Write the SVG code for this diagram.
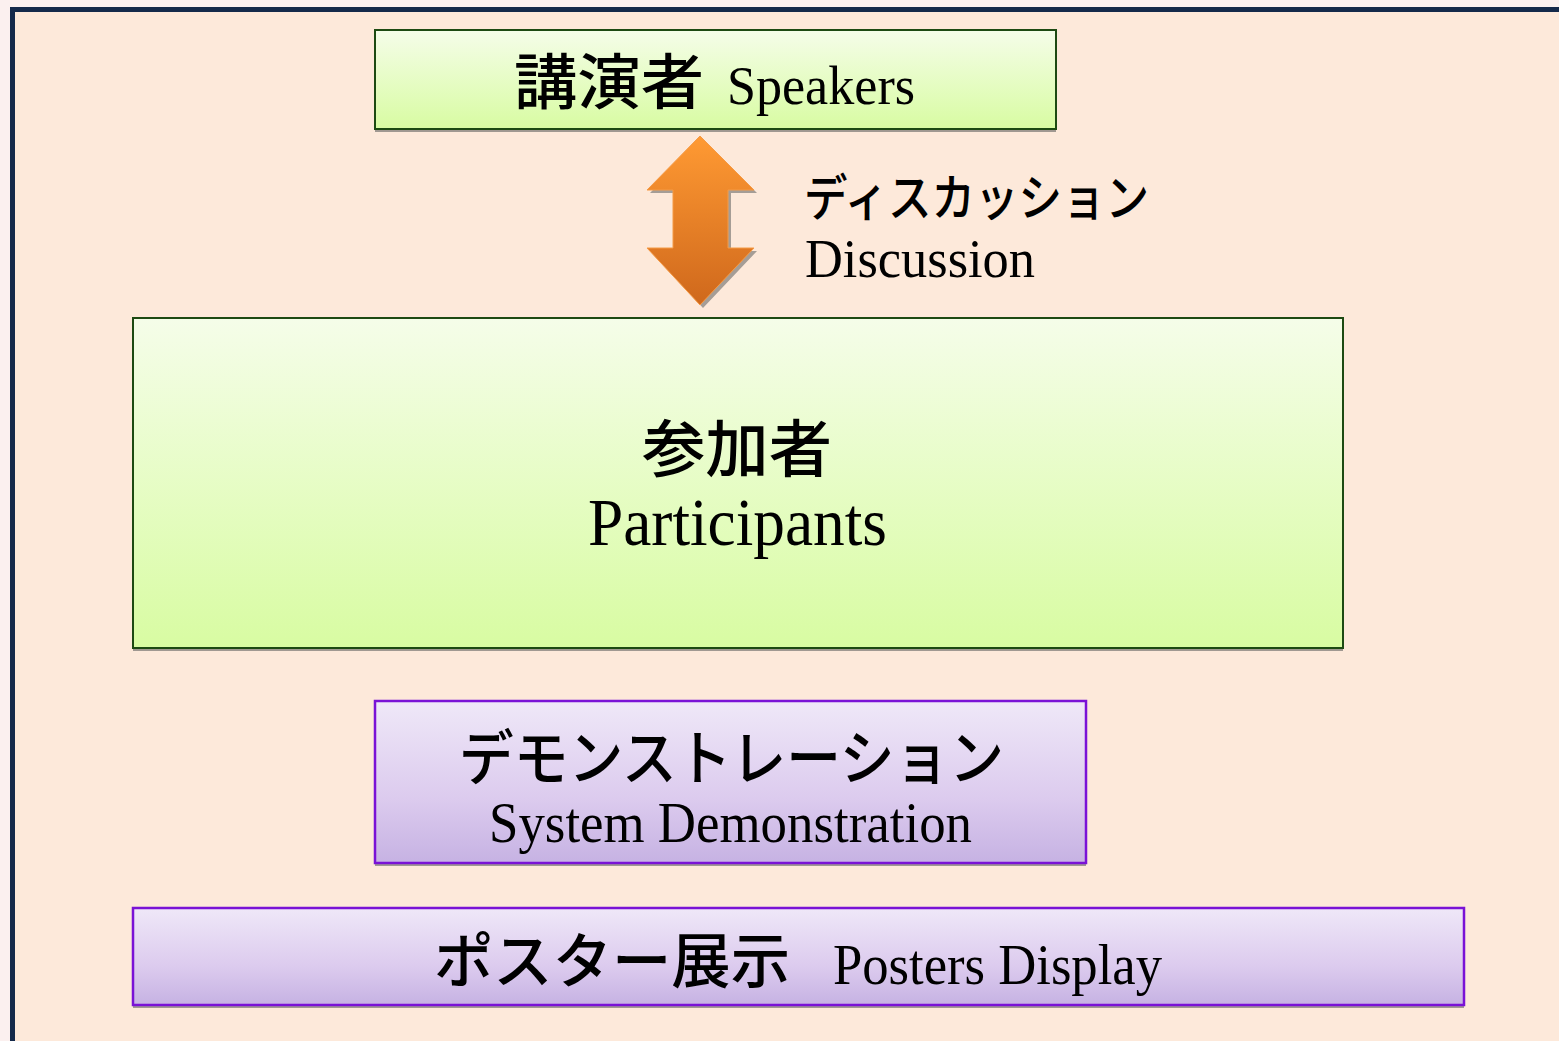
<svg xmlns="http://www.w3.org/2000/svg" width="1559" height="1041" viewBox="0 0 1559 1041">
<defs>
<linearGradient id="gGreen" x1="0" y1="0" x2="0" y2="1">
<stop offset="0" stop-color="#f5fde9"/>
<stop offset="1" stop-color="#d8fca2"/>
</linearGradient>
<linearGradient id="gPurple" x1="0" y1="0" x2="0" y2="1">
<stop offset="0" stop-color="#efe8f8"/>
<stop offset="0.6" stop-color="#dccbee"/>
<stop offset="1" stop-color="#c6b2e3"/>
</linearGradient>
<linearGradient id="gOrange" x1="0" y1="0" x2="0" y2="1">
<stop offset="0" stop-color="#ff9a33"/>
<stop offset="1" stop-color="#cf681c"/>
</linearGradient>
<style>
.green{fill:url(#gGreen);stroke:#1d4a12;stroke-width:2}
.purple{fill:url(#gPurple);stroke:#7a12d6;stroke-width:2.5}
.shadow{fill:#8f8a84;opacity:0.85}
.jp{font-family:"Noto Sans CJK JP","Noto Sans CJK SC",sans-serif;font-weight:500;fill:#000}
.en{font-family:"Liberation Serif","Times New Roman",serif;fill:#000}
</style>
</defs>
<rect x="0" y="0" width="1559" height="1041" fill="#fbf0ef"/>
<rect x="12.5" y="9.5" width="1600" height="1100" fill="#fde9da" stroke="#14294a" stroke-width="5"/>

<g id="speakers">
<rect class="shadow" x="375" y="33" width="681" height="99"/>
<rect class="green" x="375" y="30" width="681" height="99"/>
<text class="jp" x="514" y="104" font-size="60" textLength="190" lengthAdjust="spacingAndGlyphs">講演者</text>
<text class="en" x="727" y="104" font-size="54" textLength="188" lengthAdjust="spacingAndGlyphs">Speakers</text>
</g>

<g id="connectors">
<polygon points="703,139 757,193 731,193 731,251 757,251 703,308 650,251 676,251 676,193 650,193" fill="#8f8a84" opacity="0.8"/>
<polygon points="700,136 754,190 728,190 728,248 754,248 700,305 647,248 673,248 673,190 647,190" fill="url(#gOrange)" stroke="#f59a45" stroke-width="1"/>
</g>

<g id="discussion">
<text class="jp" x="804" y="216" font-size="50" textLength="345" lengthAdjust="spacingAndGlyphs">ディスカッション</text>
<text class="en" x="805" y="277" font-size="54" textLength="230" lengthAdjust="spacingAndGlyphs">Discussion</text>
</g>

<g id="participants">
<rect class="shadow" x="133" y="321" width="1210" height="330"/>
<rect class="green" x="133" y="318" width="1210" height="330"/>
<text class="jp" x="642" y="472" font-size="62" textLength="190" lengthAdjust="spacingAndGlyphs">参加者</text>
<text class="en" x="588" y="545" font-size="68" textLength="299" lengthAdjust="spacingAndGlyphs">Participants</text>
</g>

<g id="demo">
<rect class="shadow" x="375" y="704" width="711" height="162"/>
<rect class="purple" x="375" y="701" width="711" height="162"/>
<text class="jp" x="459" y="780" font-size="60" textLength="545" lengthAdjust="spacingAndGlyphs">デモンストレーション</text>
<text class="en" x="489" y="842" font-size="56" textLength="483" lengthAdjust="spacingAndGlyphs">System Demonstration</text>
</g>

<g id="posters">
<rect class="shadow" x="133" y="911" width="1331" height="97"/>
<rect class="purple" x="133" y="908" width="1331" height="97"/>
<text class="jp" x="434" y="983" font-size="60" textLength="356" lengthAdjust="spacingAndGlyphs">ポスター展示</text>
<text class="en" x="833" y="984" font-size="57" textLength="329" lengthAdjust="spacingAndGlyphs">Posters Display</text>
</g>
</svg>
